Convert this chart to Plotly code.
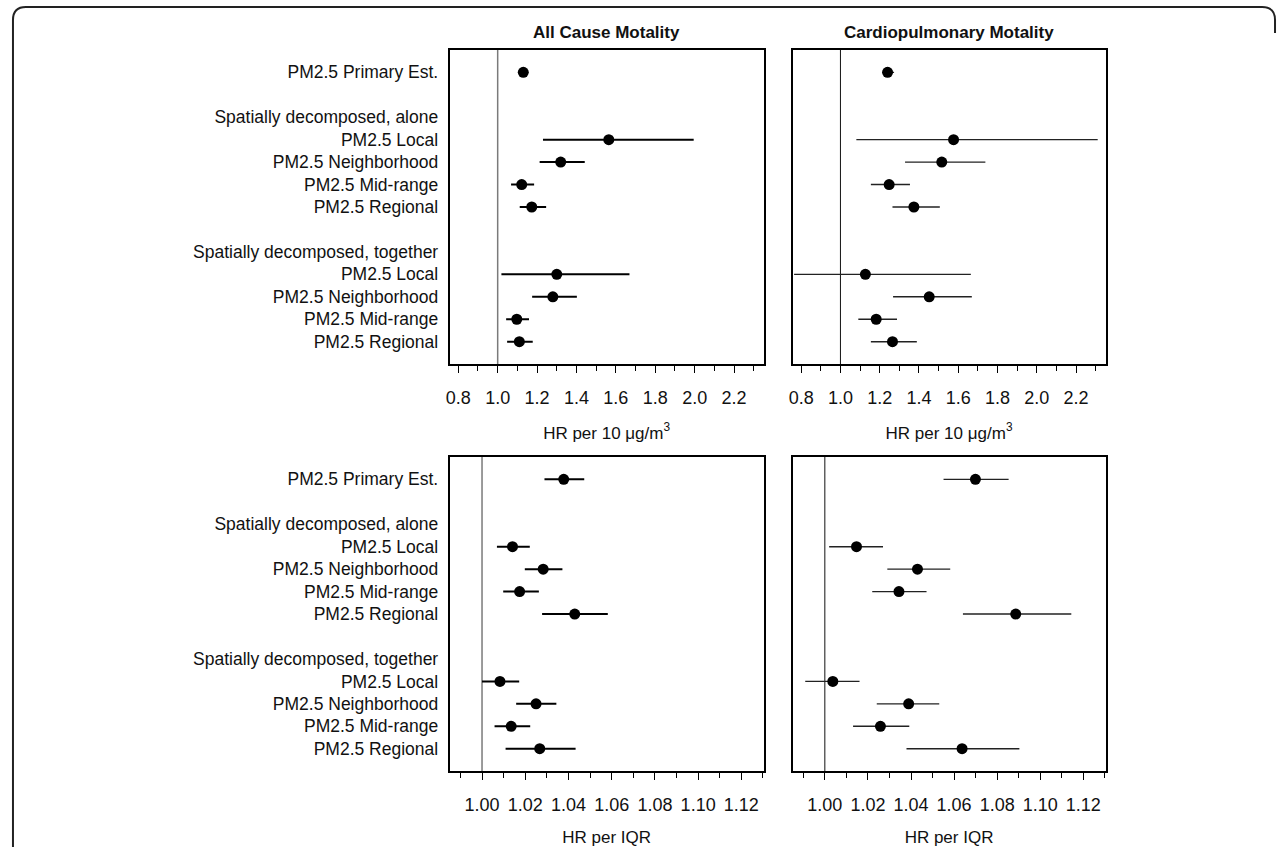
import plotly.graph_objects as go

# ---------------- data ----------------
row_labels = ["PM2.5 Primary Est.", "", "Spatially decomposed, alone", "PM2.5 Local",
              "PM2.5 Neighborhood", "PM2.5 Mid-range", "PM2.5 Regional", "",
              "Spatially decomposed, together", "PM2.5 Local", "PM2.5 Neighborhood",
              "PM2.5 Mid-range", "PM2.5 Regional"]
est_rows = [0, 3, 4, 5, 6, 9, 10, 11, 12]

# HR per 10 ug/m3
allcause_10 = [1.13, 1.564, 1.320, 1.122, 1.173, 1.300, 1.280, 1.097, 1.110]
allcause_10_lo = [1.11, 1.230, 1.213, 1.068, 1.112, 1.019, 1.175, 1.043, 1.048]
allcause_10_hi = [1.15, 1.995, 1.442, 1.185, 1.246, 1.669, 1.402, 1.159, 1.178]

cardio_10 = [1.24, 1.576, 1.516, 1.248, 1.374, 1.127, 1.452, 1.182, 1.265]
cardio_10_lo = [1.215, 1.081, 1.329, 1.155, 1.265, 0.764, 1.268, 1.091, 1.155]
cardio_10_hi = [1.273, 2.31, 1.738, 1.354, 1.506, 1.664, 1.669, 1.288, 1.389]

# HR per IQR
allcause_iqr = [1.0378, 1.0141, 1.0283, 1.0174, 1.0429, 1.0083, 1.0250, 1.0135, 1.0267]
allcause_iqr_lo = [1.0289, 1.0069, 1.0198, 1.0098, 1.0278, 1.0000, 1.0158, 1.0058, 1.0109]
allcause_iqr_hi = [1.0473, 1.0221, 1.0372, 1.0263, 1.0582, 1.0172, 1.0344, 1.0223, 1.0433]

cardio_iqr = [1.0699, 1.0147, 1.0430, 1.0344, 1.0886, 1.0037, 1.0389, 1.0258, 1.0637]
cardio_iqr_lo = [1.0551, 1.0020, 1.0290, 1.0220, 1.0641, 0.9909, 1.0241, 1.0131, 1.0379]
cardio_iqr_hi = [1.0853, 1.0270, 1.0582, 1.0472, 1.1144, 1.0161, 1.0531, 1.0392, 1.0903]

panel_titles = ["All Cause Motality", "Cardiopulmonary Motality"]
xtitle_top = "HR per 10 \u03bcg/m<sup>3</sup>"
xtitle_bottom = "HR per IQR"

# ---------------- figure ----------------
W, H = 1281, 847
FONT = "Liberation Sans, Arial, sans-serif"

label_rows = [i for i, t in enumerate(row_labels) if t]
label_text = [t for t in row_labels if t]

fig = go.Figure()

panels = [
    (allcause_10, allcause_10_lo, allcause_10_hi, "x", "y", 2.0, "#000000"),
    (cardio_10, cardio_10_lo, cardio_10_hi, "x2", "y2", 1.4, "#222222"),
    (allcause_iqr, allcause_iqr_lo, allcause_iqr_hi, "x3", "y3", 2.0, "#000000"),
    (cardio_iqr, cardio_iqr_lo, cardio_iqr_hi, "x4", "y4", 1.4, "#222222"),
]
for est, lo, hi, xa, ya, lw, lc in panels:
    fig.add_trace(go.Scatter(
        x=est, y=est_rows, mode="markers", xaxis=xa, yaxis=ya,
        marker=dict(size=11, color="black"),
        error_x=dict(type="data", symmetric=False,
                     array=[h - e for h, e in zip(hi, est)],
                     arrayminus=[e - l for e, l in zip(est, lo)],
                     width=0, thickness=lw, color=lc),
        showlegend=False, hoverinfo="skip", cliponaxis=True))

def px_x(v):
    return v / W

def px_y(v):
    return 1 - v / H

xdom_left = [px_x(447), px_x(762)]
xdom_right = [px_x(791), px_x(1105)]
ydom_top = [px_y(365), px_y(50)]
ydom_bot = [px_y(773), px_y(458)]

def xaxis_cfg(dom, anchor, rng, tick0, dtick, mdtick, fmt, title):
    return dict(
        domain=dom, anchor=anchor, range=rng, tick0=tick0, dtick=dtick,
        tickformat=fmt, ticks="outside", ticklen=7, tickwidth=1.3, tickcolor="black",
        minor=dict(dtick=mdtick, ticks="outside", ticklen=5, tickwidth=1.1, tickcolor="black"),
        showline=True, mirror=True, linewidth=1.8, linecolor="black",
        showgrid=False, zeroline=False, ticklabelstandoff=9,
        tickfont=dict(family=FONT, size=18, color="#111"),
        title=dict(text=title, font=dict(family=FONT, size=17, color="#111"), standoff=20),
    )

def yaxis_cfg(dom, anchor, show_labels):
    return dict(
        domain=dom, anchor=anchor, range=[13, -1], tickmode="array",
        tickvals=label_rows, ticktext=label_text, showticklabels=show_labels,
        ticks="", ticklabelstandoff=6,
        showline=True, mirror=True, linewidth=1.8, linecolor="black",
        showgrid=False, zeroline=False,
        tickfont=dict(family=FONT, size=17.5, color="#111"),
    )

top_rng = [0.756, 2.35]
bot_rng = [0.985, 1.1303]

fig.update_layout(
    width=W, height=H, margin=dict(l=0, r=0, t=0, b=0),
    paper_bgcolor="white", plot_bgcolor="white",
    font=dict(family=FONT, color="#111"),
    xaxis=xaxis_cfg(xdom_left, "y", top_rng, 0.8, 0.2, 0.1, ".1f", xtitle_top),
    xaxis2=xaxis_cfg(xdom_right, "y2", top_rng, 0.8, 0.2, 0.1, ".1f", xtitle_top),
    xaxis3=xaxis_cfg(xdom_left, "y3", bot_rng, 1.0, 0.02, 0.01, ".2f", xtitle_bottom),
    xaxis4=xaxis_cfg(xdom_right, "y4", bot_rng, 1.0, 0.02, 0.01, ".2f", xtitle_bottom),
    yaxis=yaxis_cfg(ydom_top, "x", True),
    yaxis2=yaxis_cfg(ydom_top, "x2", False),
    yaxis3=yaxis_cfg(ydom_bot, "x3", True),
    yaxis4=yaxis_cfg(ydom_bot, "x4", False),
)

# reference lines at HR = 1
for xa, ya, col, w in [("x", "y", "#7a7a7a", 1.5), ("x2", "y2", "#111111", 1.0),
                       ("x3", "y3", "#7a7a7a", 1.5), ("x4", "y4", "#111111", 1.0)]:
    fig.add_shape(type="line", xref=xa, yref=f"{ya} domain", x0=1, x1=1, y0=0, y1=1,
                  line=dict(color=col, width=w), layer="below")

# panel titles
for t, dom in zip(panel_titles, [xdom_left, xdom_right]):
    fig.add_annotation(text=f"<b>{t}</b>", xref="paper", yref="paper",
                       x=(dom[0] + dom[1]) / 2, y=px_y(33), xanchor="center", yanchor="middle",
                       showarrow=False, font=dict(family=FONT, size=17, color="#111"))

# rounded outer frame (left, top and top-right corner)
r = 13
L, T, R = 9, 7, 1275
path = (f"M {px_x(L)},{px_y(H + 5)} L {px_x(L)},{px_y(T + r)} "
        f"Q {px_x(L)},{px_y(T)} {px_x(L + r)},{px_y(T)} "
        f"L {px_x(R - r)},{px_y(T)} Q {px_x(R)},{px_y(T)} {px_x(R)},{px_y(T + r)} "
        f"L {px_x(R)},{px_y(T + 2 * r)}")
fig.add_shape(type="path", xref="paper", yref="paper", path=path,
              line=dict(color="#222", width=2))

fig.write_html("out.html", config={"displayModeBar": False},
               post_script="document.body.style.margin='0px';")
